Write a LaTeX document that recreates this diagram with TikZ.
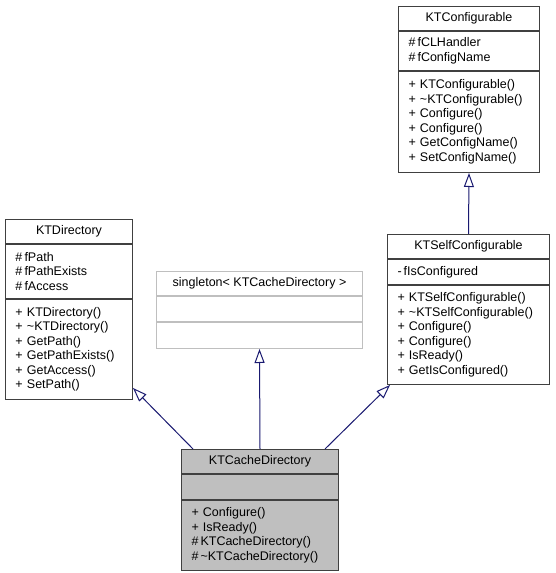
\documentclass[tikz,border=0pt]{standalone}
\usepackage{fontspec}
\setmainfont{Liberation Sans}
\usetikzlibrary{positioning,arrows.meta}
\definecolor{edgeblue}{HTML}{191970}
\definecolor{boxline}{HTML}{404040}
\definecolor{greyfill}{HTML}{BFBFBF}

\begin{document}
\begin{tikzpicture}[
    x=1pt, y=1pt,
    ttl/.style={rectangle, draw=boxline, line width=1pt, fill=white, minimum width=#1pt,
        minimum height=24pt, inner sep=0pt, align=center, anchor=north west,
        font=\fontsize{12.5}{14.5}\selectfont},
    mem/.style={rectangle, draw=boxline, line width=1pt, fill=white, minimum width=#1pt,
        text width=#1pt-20pt, inner xsep=10pt, inner ysep=4pt, align=left,
        font=\fontsize{12.5}{14.5}\selectfont},
    inh/.style={-{Triangle[open, length=14pt, width=10pt]}, edgeblue, line width=1pt}
]
\useasboundingbox[fill=white] (0,0) rectangle (555,573);

% KTConfigurable
\node[ttl=141] (cfgT) at (398,567) {KTConfigurable};
\node[mem=141, minimum height=39pt, below=0pt of cfgT] (cfgA) {\#\,fCLHandler\\\#\,fConfigName};
\node[mem=141, minimum height=101pt, below=0pt of cfgA] (cfgM) {+ KTConfigurable()\\+ \textasciitilde KTConfigurable()\\+ Configure()\\+ Configure()\\+ GetConfigName()\\+ SetConfigName()};

% KTSelfConfigurable
\node[ttl=162] (selfT) at (387,339) {KTSelfConfigurable};
\node[mem=162, minimum height=25pt, below=0pt of selfT] (selfA) {-\,fIsConfigured};
\node[mem=162, minimum height=99pt, below=0pt of selfA] (selfM) {+ KTSelfConfigurable()\\+ \textasciitilde KTSelfConfigurable()\\+ Configure()\\+ Configure()\\+ IsReady()\\+ GetIsConfigured()};

% KTDirectory
\node[ttl=127] (dirT) at (5,354) {KTDirectory};
\node[mem=127, minimum height=54pt, below=0pt of dirT] (dirA) {\#\,fPath\\\#\,fPathExists\\\#\,fAccess};
\node[mem=127, minimum height=100pt, below=0pt of dirA] (dirM) {+ KTDirectory()\\+ \textasciitilde KTDirectory()\\+ GetPath()\\+ GetPathExists()\\+ GetAccess()\\+ SetPath()};

% singleton
\node[ttl=206, draw=greyfill] (sgT) at (156,302) {singleton< KTCacheDirectory >};
\node[mem=206, draw=greyfill, minimum height=25pt, below=0pt of sgT] (sgA) {};
\node[mem=206, draw=greyfill, minimum height=26pt, below=0pt of sgA] (sgM) {};

% KTCacheDirectory
\node[ttl=157, fill=greyfill] (cdT) at (181,124) {KTCacheDirectory};
\node[mem=157, fill=greyfill, minimum height=25pt, below=0pt of cdT] (cdA) {};
\node[mem=157, fill=greyfill, minimum height=70pt, below=0pt of cdA] (cdM) {+ Configure()\\+ IsReady()\\\#\,KTCacheDirectory()\\\#\,\textasciitilde KTCacheDirectory()};

\draw[inh] ([xshift=12pt]cdT.north west) -- ([yshift=12pt]dirM.south east);
\draw[inh] (cdT.north) -- (sgM.south);
\draw[inh] ([xshift=-14pt]cdT.north east) -- ([xshift=3pt]selfM.south west);
\draw[inh] (selfT.north) -- (cfgM.south);
\end{tikzpicture}
\end{document}
